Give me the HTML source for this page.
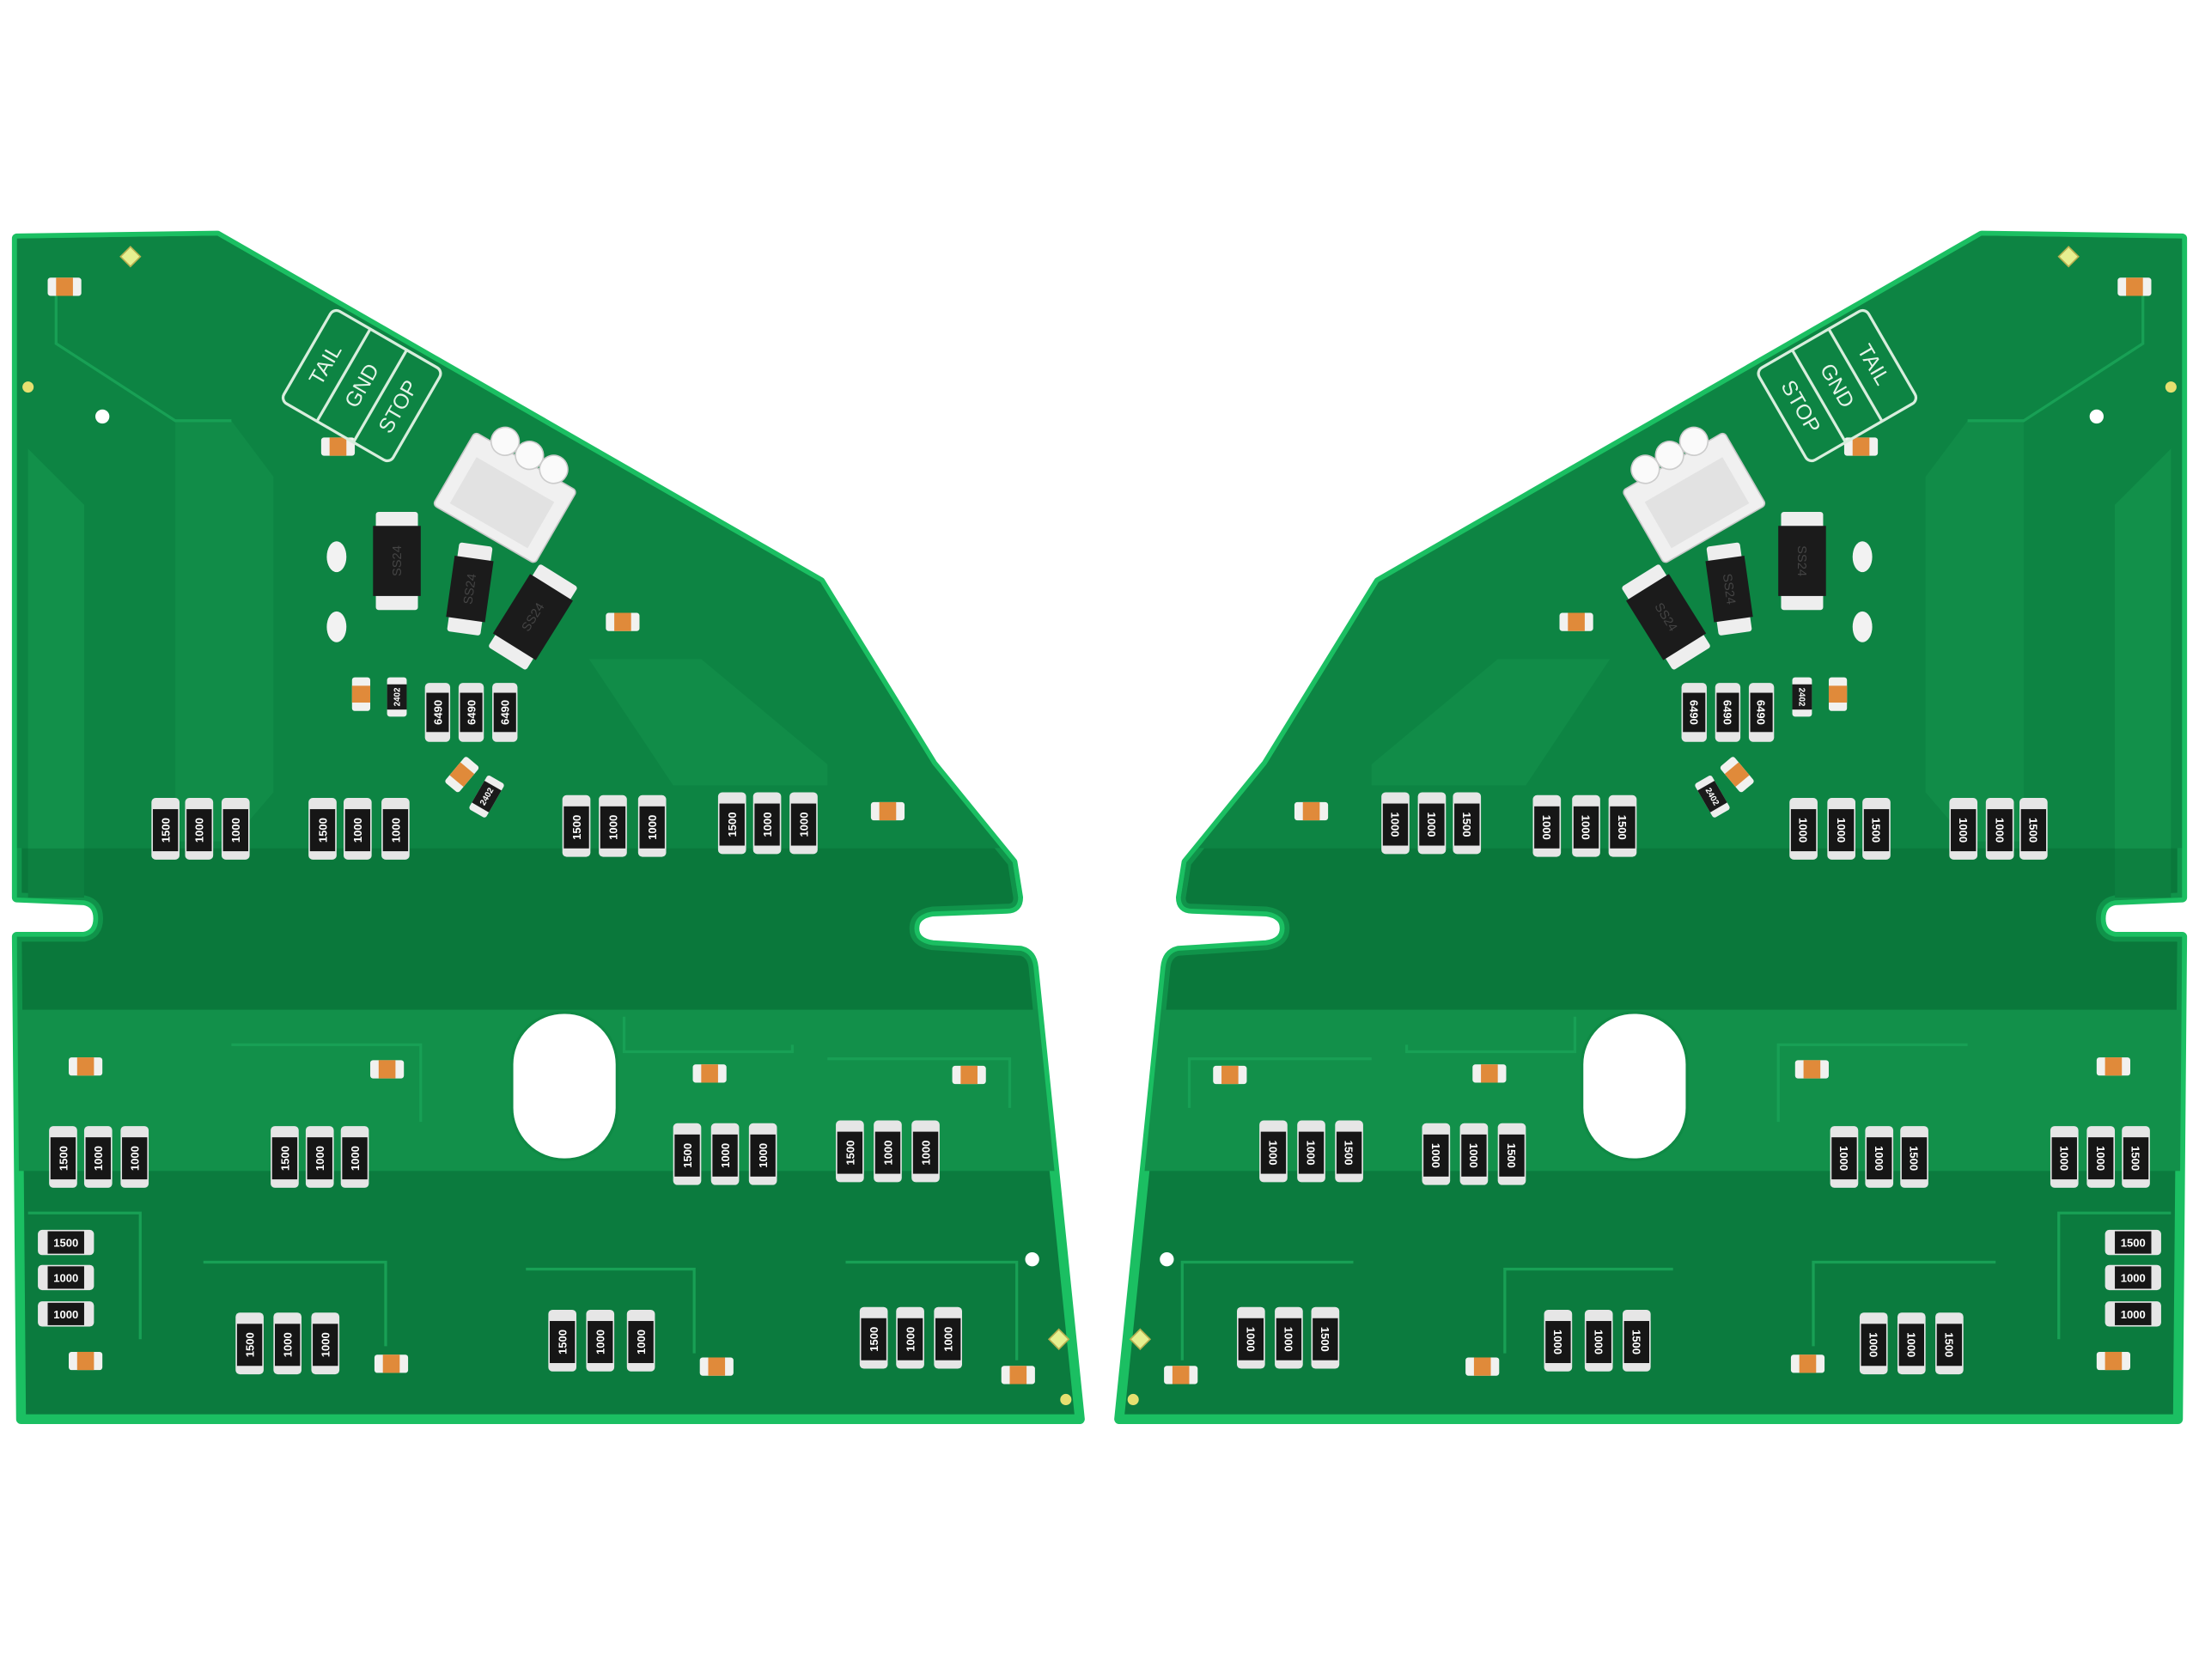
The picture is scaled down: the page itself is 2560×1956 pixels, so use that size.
<!DOCTYPE html>
<html><head><meta charset="utf-8"><style>
html,body{margin:0;padding:0;background:#fff;width:2560px;height:1956px;overflow:hidden}
svg{display:block}
text{font-family:"Liberation Sans",sans-serif}
</style></head><body>
<svg width="2560" height="1956" viewBox="0 0 1568 1198" preserveAspectRatio="none" xmlns="http://www.w3.org/2000/svg">
<defs>
<clipPath id="clipL"><path d="M12,170 L155,168 L585,415 L665,545 L722,615 L726,640 Q726,648 718,648 L665,650 Q652,652 652,662 Q652,672 665,674 L728,678 Q736,680 737,690 L770,1012 L15,1012 L12,668 L60,668 Q70,666 70,655 Q70,644 60,642 L12,640 Z"/></clipPath>
<g id="boardL">
<path d="M12,170 L155,168 L585,415 L665,545 L722,615 L726,640 Q726,648 718,648 L665,650 Q652,652 652,662 Q652,672 665,674 L728,678 Q736,680 737,690 L770,1012 L15,1012 L12,668 L60,668 Q70,666 70,655 Q70,644 60,642 L12,640 Z" fill="#0b7b3e" stroke="#1bbf62" stroke-width="7" stroke-linejoin="round"/>
<g clip-path="url(#clipL)">
<path d="M12,170 L155,168 L585,415 L665,545 L722,615 L726,640 L726,605 L12,605 Z" fill="#0d8443"/>
<rect x="12" y="720" width="740" height="115" fill="#12904a"/>
<path d="M20,320 L60,360 L60,640 L20,640 Z" fill="#12904a"/>
<path d="M125,300 L165,300 L195,340 L195,565 L165,600 L125,600 Z" fill="#118c48"/>
<path d="M420,470 L500,470 L590,545 L590,560 L480,560 Z" fill="#118c48"/>
<path d="M40,200 L40,245 L125,300 L165,300" fill="none" stroke="#18a055" stroke-width="2"/>
<path d="M165,745 L300,745 L300,800 M445,725 L445,750 L565,750 L565,745 M590,755 L720,755 L720,790" fill="none" stroke="#18a055" stroke-width="2"/>
<path d="M145,900 L275,900 L275,960 M375,905 L495,905 L495,965 M603,900 L725,900 L725,970 M20,865 L100,865 L100,955" fill="none" stroke="#18a055" stroke-width="2"/>
<rect x="12" y="605" width="760" height="115" fill="#0a773b" opacity="0.6"/>
</g>
<rect x="365" y="722" width="75" height="105" rx="37" fill="#fff" stroke="#0f8a45" stroke-width="2"/>
<circle cx="73" cy="297" r="5" fill="#fff"/>
<circle cx="736" cy="898" r="5" fill="#fff"/>
<rect x="88" y="178" width="10" height="10" fill="#e6f090" stroke="#b9b050" transform="rotate(45 93 183)"/>
<circle cx="20" cy="276" r="4" fill="#e6e070"/>
<rect x="750" y="950" width="10" height="10" fill="#e6f090" stroke="#b9b050" transform="rotate(45 755 955)"/>
<circle cx="760" cy="998" r="4" fill="#e6e070"/>
<g fill="#f1f1ef">
<rect x="34" y="198" width="24" height="13" rx="2"/><rect x="229" y="312" width="24" height="13" rx="2"/><rect x="432" y="437" width="24" height="13" rx="2"/><rect x="621" y="572" width="24" height="13" rx="2"/>
<rect x="49" y="754" width="24" height="13" rx="2"/><rect x="264" y="756" width="24" height="13" rx="2"/><rect x="494" y="759" width="24" height="13" rx="2"/><rect x="679" y="760" width="24" height="13" rx="2"/>
<rect x="49" y="964" width="24" height="13" rx="2"/><rect x="267" y="966" width="24" height="13" rx="2"/><rect x="499" y="968" width="24" height="13" rx="2"/><rect x="714" y="974" width="24" height="13" rx="2"/>
<rect x="251" y="483" width="13" height="24" rx="2"/>
<rect x="323" y="540" width="13" height="24" rx="2" transform="rotate(40 329 552)"/>
</g>
<g fill="#e08a3a">
<rect x="40" y="198" width="12" height="13"/><rect x="235" y="312" width="12" height="13"/><rect x="438" y="437" width="12" height="13"/><rect x="627" y="572" width="12" height="13"/>
<rect x="55" y="754" width="12" height="13"/><rect x="270" y="756" width="12" height="13"/><rect x="500" y="759" width="12" height="13"/><rect x="685" y="760" width="12" height="13"/>
<rect x="55" y="964" width="12" height="13"/><rect x="273" y="966" width="12" height="13"/><rect x="505" y="968" width="12" height="13"/><rect x="720" y="974" width="12" height="13"/>
<rect x="251" y="489" width="13" height="12"/>
<rect x="323" y="546" width="13" height="12" transform="rotate(40 329 552)"/>
</g>
<g transform="rotate(30 360 355)">
<rect x="318" y="325" width="84" height="60" rx="3" fill="#f0f0f0" stroke="#c8c8c8"/>
<rect x="328" y="340" width="64" height="38" fill="#e2e2e2"/>
<circle cx="340" cy="320" r="10" fill="#fafafa" stroke="#ccc"/><circle cx="360" cy="320" r="10" fill="#fafafa" stroke="#ccc"/><circle cx="380" cy="320" r="10" fill="#fafafa" stroke="#ccc"/>
</g>
<g><rect x="268" y="365" width="30" height="70" rx="2" fill="#eee"/><rect x="266" y="375" width="34" height="50" fill="#1b1b1b"/></g>
<g transform="rotate(8 335 420)"><rect x="323" y="388" width="24" height="64" rx="2" fill="#eee"/><rect x="321" y="398" width="28" height="44" fill="#1b1b1b"/></g>
<g transform="rotate(32 380 440)"><rect x="364" y="405" width="32" height="70" rx="2" fill="#eee"/><rect x="362" y="415" width="36" height="50" fill="#1b1b1b"/></g>
<ellipse cx="240" cy="397" rx="7" ry="11" fill="#f2f2f2"/><ellipse cx="240" cy="447" rx="7" ry="11" fill="#f2f2f2"/>
<rect x="276" y="483" width="14" height="28" rx="2" fill="#eee"/><rect x="276" y="488" width="14" height="18" fill="#1a1a1a"/>
<g transform="rotate(30 347 568)"><rect x="340" y="554" width="14" height="28" rx="2" fill="#eee"/><rect x="340" y="559" width="14" height="18" fill="#1a1a1a"/></g>
<g fill="#e6e6e6">
<rect x="108" y="569" width="20" height="44" rx="3"/><rect x="132" y="569" width="20" height="44" rx="3"/><rect x="158" y="569" width="20" height="44" rx="3"/>
<rect x="220" y="569" width="20" height="44" rx="3"/><rect x="245" y="569" width="20" height="44" rx="3"/><rect x="272" y="569" width="20" height="44" rx="3"/>
<rect x="401" y="567" width="20" height="44" rx="3"/><rect x="427" y="567" width="20" height="44" rx="3"/><rect x="455" y="567" width="20" height="44" rx="3"/>
<rect x="512" y="565" width="20" height="44" rx="3"/><rect x="537" y="565" width="20" height="44" rx="3"/><rect x="563" y="565" width="20" height="44" rx="3"/>
<rect x="35" y="803" width="20" height="44" rx="3"/><rect x="60" y="803" width="20" height="44" rx="3"/><rect x="86" y="803" width="20" height="44" rx="3"/>
<rect x="193" y="803" width="20" height="44" rx="3"/><rect x="218" y="803" width="20" height="44" rx="3"/><rect x="243" y="803" width="20" height="44" rx="3"/>
<rect x="480" y="801" width="20" height="44" rx="3"/><rect x="507" y="801" width="20" height="44" rx="3"/><rect x="534" y="801" width="20" height="44" rx="3"/>
<rect x="596" y="799" width="20" height="44" rx="3"/><rect x="623" y="799" width="20" height="44" rx="3"/><rect x="650" y="799" width="20" height="44" rx="3"/>
<rect x="168" y="936" width="20" height="44" rx="3"/><rect x="195" y="936" width="20" height="44" rx="3"/><rect x="222" y="936" width="20" height="44" rx="3"/>
<rect x="391" y="934" width="20" height="44" rx="3"/><rect x="418" y="934" width="20" height="44" rx="3"/><rect x="447" y="934" width="20" height="44" rx="3"/>
<rect x="613" y="932" width="20" height="44" rx="3"/><rect x="639" y="932" width="20" height="44" rx="3"/><rect x="666" y="932" width="20" height="44" rx="3"/>
<rect x="303" y="487" width="18" height="42" rx="3"/><rect x="327" y="487" width="18" height="42" rx="3"/><rect x="351" y="487" width="18" height="42" rx="3"/>
<rect x="27" y="877" width="40" height="18" rx="3"/><rect x="27" y="902" width="40" height="18" rx="3"/><rect x="27" y="928" width="40" height="18" rx="3"/>
</g>
<g fill="#161616">
<rect x="109" y="577" width="18" height="30"/><rect x="133" y="577" width="18" height="30"/><rect x="159" y="577" width="18" height="30"/>
<rect x="221" y="577" width="18" height="30"/><rect x="246" y="577" width="18" height="30"/><rect x="273" y="577" width="18" height="30"/>
<rect x="402" y="575" width="18" height="30"/><rect x="428" y="575" width="18" height="30"/><rect x="456" y="575" width="18" height="30"/>
<rect x="513" y="573" width="18" height="30"/><rect x="538" y="573" width="18" height="30"/><rect x="564" y="573" width="18" height="30"/>
<rect x="36" y="811" width="18" height="30"/><rect x="61" y="811" width="18" height="30"/><rect x="87" y="811" width="18" height="30"/>
<rect x="194" y="811" width="18" height="30"/><rect x="219" y="811" width="18" height="30"/><rect x="244" y="811" width="18" height="30"/>
<rect x="481" y="809" width="18" height="30"/><rect x="508" y="809" width="18" height="30"/><rect x="535" y="809" width="18" height="30"/>
<rect x="597" y="807" width="18" height="30"/><rect x="624" y="807" width="18" height="30"/><rect x="651" y="807" width="18" height="30"/>
<rect x="169" y="944" width="18" height="30"/><rect x="196" y="944" width="18" height="30"/><rect x="223" y="944" width="18" height="30"/>
<rect x="392" y="942" width="18" height="30"/><rect x="419" y="942" width="18" height="30"/><rect x="448" y="942" width="18" height="30"/>
<rect x="614" y="940" width="18" height="30"/><rect x="640" y="940" width="18" height="30"/><rect x="667" y="940" width="18" height="30"/>
<rect x="304" y="494" width="16" height="28"/><rect x="328" y="494" width="16" height="28"/><rect x="352" y="494" width="16" height="28"/>
<rect x="34" y="878" width="26" height="16"/><rect x="34" y="903" width="26" height="16"/><rect x="34" y="929" width="26" height="16"/>
</g>
<g transform="translate(258,275) rotate(-60)" fill="none" stroke="#d8eedd" stroke-width="2">
<rect x="-38" y="-45" width="76" height="90" rx="5"/>
<line x1="-38" y1="-15" x2="38" y2="-15"/><line x1="-38" y1="15" x2="38" y2="15"/>
</g>
</g>
</defs>

<use href="#boardL"/>
<use href="#boardL" transform="matrix(-1 0 0 1 1568 0)"/>

<g fill="#fff" font-size="8" font-weight="bold" text-anchor="middle">
<text transform="translate(118,592) rotate(-90)" dy="3">1500</text><text transform="translate(142,592) rotate(-90)" dy="3">1000</text><text transform="translate(168,592) rotate(-90)" dy="3">1000</text>
<text transform="translate(230,592) rotate(-90)" dy="3">1500</text><text transform="translate(255,592) rotate(-90)" dy="3">1000</text><text transform="translate(282,592) rotate(-90)" dy="3">1000</text>
<text transform="translate(411,590) rotate(-90)" dy="3">1500</text><text transform="translate(437,590) rotate(-90)" dy="3">1000</text><text transform="translate(465,590) rotate(-90)" dy="3">1000</text>
<text transform="translate(522,588) rotate(-90)" dy="3">1500</text><text transform="translate(547,588) rotate(-90)" dy="3">1000</text><text transform="translate(573,588) rotate(-90)" dy="3">1000</text>
<text transform="translate(45,826) rotate(-90)" dy="3">1500</text><text transform="translate(70,826) rotate(-90)" dy="3">1000</text><text transform="translate(96,826) rotate(-90)" dy="3">1000</text>
<text transform="translate(203,826) rotate(-90)" dy="3">1500</text><text transform="translate(228,826) rotate(-90)" dy="3">1000</text><text transform="translate(253,826) rotate(-90)" dy="3">1000</text>
<text transform="translate(490,824) rotate(-90)" dy="3">1500</text><text transform="translate(517,824) rotate(-90)" dy="3">1000</text><text transform="translate(544,824) rotate(-90)" dy="3">1000</text>
<text transform="translate(606,822) rotate(-90)" dy="3">1500</text><text transform="translate(633,822) rotate(-90)" dy="3">1000</text><text transform="translate(660,822) rotate(-90)" dy="3">1000</text>
<text transform="translate(178,959) rotate(-90)" dy="3">1500</text><text transform="translate(205,959) rotate(-90)" dy="3">1000</text><text transform="translate(232,959) rotate(-90)" dy="3">1000</text>
<text transform="translate(401,957) rotate(-90)" dy="3">1500</text><text transform="translate(428,957) rotate(-90)" dy="3">1000</text><text transform="translate(457,957) rotate(-90)" dy="3">1000</text>
<text transform="translate(623,955) rotate(-90)" dy="3">1500</text><text transform="translate(649,955) rotate(-90)" dy="3">1000</text><text transform="translate(676,955) rotate(-90)" dy="3">1000</text>
<text transform="translate(312,508) rotate(-90)" dy="3">6490</text><text transform="translate(336,508) rotate(-90)" dy="3">6490</text><text transform="translate(360,508) rotate(-90)" dy="3">6490</text>
<text x="47" y="889">1500</text><text x="47" y="914">1000</text><text x="47" y="940">1000</text>
<text transform="translate(283,497) rotate(-90)" dy="2" font-size="6">2402</text>
<text transform="translate(347,568) rotate(-60)" dy="2" font-size="6">2402</text>
</g>
<g fill="#444" font-size="9" text-anchor="middle">
<text transform="translate(283,400) rotate(-90)" dy="3">SS24</text>
<text transform="translate(335,420) rotate(-82)" dy="3">SS24</text>
<text transform="translate(380,440) rotate(-58)" dy="3">SS24</text>
</g>
<g transform="translate(258,275) rotate(-60)" fill="#e4f4e8" font-size="15" text-anchor="middle">
<text y="-30" dy="5">TAIL</text><text y="0" dy="5">GND</text><text y="30" dy="5">STOP</text>
</g>

<g fill="#fff" font-size="8" font-weight="bold" text-anchor="middle">
<text transform="translate(1450,592) rotate(90)" dy="3">1500</text><text transform="translate(1426,592) rotate(90)" dy="3">1000</text><text transform="translate(1400,592) rotate(90)" dy="3">1000</text>
<text transform="translate(1338,592) rotate(90)" dy="3">1500</text><text transform="translate(1313,592) rotate(90)" dy="3">1000</text><text transform="translate(1286,592) rotate(90)" dy="3">1000</text>
<text transform="translate(1157,590) rotate(90)" dy="3">1500</text><text transform="translate(1131,590) rotate(90)" dy="3">1000</text><text transform="translate(1103,590) rotate(90)" dy="3">1000</text>
<text transform="translate(1046,588) rotate(90)" dy="3">1500</text><text transform="translate(1021,588) rotate(90)" dy="3">1000</text><text transform="translate(995,588) rotate(90)" dy="3">1000</text>
<text transform="translate(1523,826) rotate(90)" dy="3">1500</text><text transform="translate(1498,826) rotate(90)" dy="3">1000</text><text transform="translate(1472,826) rotate(90)" dy="3">1000</text>
<text transform="translate(1365,826) rotate(90)" dy="3">1500</text><text transform="translate(1340,826) rotate(90)" dy="3">1000</text><text transform="translate(1315,826) rotate(90)" dy="3">1000</text>
<text transform="translate(1078,824) rotate(90)" dy="3">1500</text><text transform="translate(1051,824) rotate(90)" dy="3">1000</text><text transform="translate(1024,824) rotate(90)" dy="3">1000</text>
<text transform="translate(962,822) rotate(90)" dy="3">1500</text><text transform="translate(935,822) rotate(90)" dy="3">1000</text><text transform="translate(908,822) rotate(90)" dy="3">1000</text>
<text transform="translate(1390,959) rotate(90)" dy="3">1500</text><text transform="translate(1363,959) rotate(90)" dy="3">1000</text><text transform="translate(1336,959) rotate(90)" dy="3">1000</text>
<text transform="translate(1167,957) rotate(90)" dy="3">1500</text><text transform="translate(1140,957) rotate(90)" dy="3">1000</text><text transform="translate(1111,957) rotate(90)" dy="3">1000</text>
<text transform="translate(945,955) rotate(90)" dy="3">1500</text><text transform="translate(919,955) rotate(90)" dy="3">1000</text><text transform="translate(892,955) rotate(90)" dy="3">1000</text>
<text transform="translate(1256,508) rotate(90)" dy="3">6490</text><text transform="translate(1232,508) rotate(90)" dy="3">6490</text><text transform="translate(1208,508) rotate(90)" dy="3">6490</text>
<text x="1521" y="889">1500</text><text x="1521" y="914">1000</text><text x="1521" y="940">1000</text>
<text transform="translate(1285,497) rotate(90)" dy="2" font-size="6">2402</text>
<text transform="translate(1221,568) rotate(60)" dy="2" font-size="6">2402</text>
</g>
<g fill="#444" font-size="9" text-anchor="middle">
<text transform="translate(1285,400) rotate(90)" dy="3">SS24</text>
<text transform="translate(1233,420) rotate(82)" dy="3">SS24</text>
<text transform="translate(1188,440) rotate(58)" dy="3">SS24</text>
</g>
<g transform="translate(1310,275) rotate(60)" fill="#e4f4e8" font-size="15" text-anchor="middle">
<text y="-30" dy="5">TAIL</text><text y="0" dy="5">GND</text><text y="30" dy="5">STOP</text>
</g>
</svg>
</body></html>
